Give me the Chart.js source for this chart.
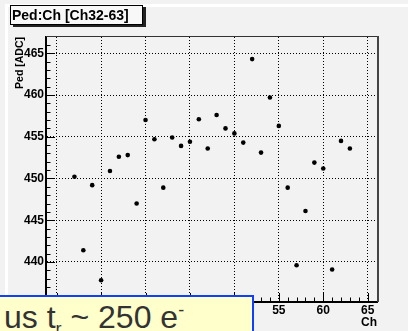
<!DOCTYPE html>
<html>
<head>
<meta charset="utf-8">
<script src="https://cdn.jsdelivr.net/npm/chart.js@4.4.1/dist/chart.umd.min.js"></script>
<style>
  html, body { margin: 0; padding: 0; background: #f2f2f2; overflow: hidden; }
  #wrap { position: relative; width: 408px; height: 331px; }
  #ped-chart { position: absolute; left: 0; top: 0; }
  #title-box {
    position: absolute; left: 10px; top: 5px; width: 130px; height: 18px;
    padding-left: 1px; border: 1px solid #000; background: #f8f8f8;
    box-shadow: 3px 2px 0 #222;
    font: bold 14px "Liberation Sans", Arial, sans-serif; line-height: 18px; color: #000;
    white-space: nowrap;
  }
  #slide-box {
    position: absolute; left: -10px; top: 295px; width: 248px; height: 60px;
    padding-left: 12px; border: 2px solid #1040ff; background: #ffffcc;
    font: 32px "Liberation Sans", Arial, sans-serif; line-height: 40px; color: #333;
    white-space: nowrap;
  }
  #slide-box sub, #slide-box sup { font-size: 18px; line-height: 0; }
</style>
</head>
<body>
<div id="wrap">
  <canvas id="ped-chart" width="408" height="331"></canvas>
  <div id="title-box">Ped:Ch [Ch32-63]</div>
  <div id="slide-box">us t<sub>r</sub> ~ 250 e<sup>-</sup></div>
</div>
<script>
// pedestal per channel
const channels = [32, 33, 34, 35, 36, 37, 38, 39, 40, 41, 42, 43, 44, 45, 46, 47,
  48, 49, 50, 51, 52, 53, 54, 55, 56, 57, 58, 59, 60, 61, 62, 63];
const pedValues = [450.2, 441.4, 449.2, 437.8, 450.9, 452.6, 452.8, 447.0,
  457.0, 454.7, 448.9, 454.9, 453.9, 454.4, 457.1, 453.6,
  457.6, 456.0, 455.4, 454.3, 464.3, 453.1, 459.7, 456.3,
  448.9, 439.6, 446.1, 451.9, 451.2, 439.1, 454.5, 453.6];
const xTickLabels = [30, 35, 40, 45, 50, 55, 60, 65];
const yTickLabels = [440, 445, 450, 455, 460, 465];

const xRange = [28.8, 66.05];
const yRange = [435.2, 466.95];

const font = "Liberation Sans";

function intTicks(scale) {
  const ticks = [];
  for (let v = Math.ceil(scale.min); v <= Math.floor(scale.max); v++) {
    ticks.push({ value: v });
  }
  scale.ticks = ticks;
}

function isMajor(scale, v) {
  const labels = scale.axis === "x" ? xTickLabels : yTickLabels;
  return labels.includes(v);
}

// ROOT style: pad background, frame, inward ticks
const rootStyle = {
  id: "rootStyle",
  beforeDraw(chart) {
    const ctx = chart.ctx;
    ctx.save();
    ctx.fillStyle = "#f2f2f2";
    ctx.fillRect(0, 0, chart.width, chart.height);
    ctx.fillStyle = "#ffffff";
    ctx.fillRect(5, 4, chart.width - 5, 3);
    ctx.fillRect(5, 4, 3, chart.height - 4);
    ctx.restore();
  },
  afterDraw(chart) {
    const ctx = chart.ctx;
    const area = chart.chartArea;
    const xs = chart.scales.x;
    const ys = chart.scales.y;
    ctx.save();
    ctx.strokeStyle = "#000";
    ctx.lineWidth = 1;
    ctx.beginPath();
    xs.ticks.forEach((t) => {
      const px = Math.round(xs.getPixelForValue(t.value)) + 0.5;
      const len = isMajor(xs, t.value) ? 9 : 4.5;
      ctx.moveTo(px, area.bottom);
      ctx.lineTo(px, area.bottom - len);
    });
    ys.ticks.forEach((t) => {
      const py = Math.round(ys.getPixelForValue(t.value)) + 0.5;
      const len = isMajor(ys, t.value) ? 9 : 4.5;
      ctx.moveTo(area.left, py);
      ctx.lineTo(area.left + len, py);
    });
    ctx.stroke();
    // top and right side of the frame
    ctx.fillStyle = "#333";
    ctx.fillRect(area.left, area.top - 1, area.right - area.left + 2, 1);
    ctx.fillStyle = "#444";
    ctx.fillRect(area.right, area.top - 1, 2, area.bottom - area.top + 1);
    ctx.restore();
  },
};

const canvas = document.querySelector("#ped-chart");

new Chart(canvas.getContext("2d"), {
  type: "scatter",
  data: {
    datasets: [
      {
        label: "Ped",
        data: channels.map((ch, i) => ({ x: ch, y: pedValues[i] })),
        backgroundColor: "#000",
        borderWidth: 0,
        pointRadius: 2.3,
      },
    ],
  },
  options: {
    responsive: false,
    animation: false,
    devicePixelRatio: 1,
    layout: { padding: { left: 0, top: 37, right: 31, bottom: 0 } },
    plugins: {
      legend: { display: false },
      tooltip: { enabled: false },
    },
    scales: {
      x: {
        type: "linear",
        min: xRange[0],
        max: xRange[1],
        afterBuildTicks: intTicks,
        afterFit: (scale) => { scale.height = 29; },
        grid: {
          color: (c) => (c.tick && isMajor(c.scale, c.tick.value) ? "#000" : "transparent"),
          lineWidth: 1,
          drawTicks: false,
        },
        border: { display: true, color: "#000", width: 2, dash: [1, 2] },
        ticks: {
          padding: 1,
          color: "#000",
          font: { family: font, size: 12, weight: "bold" },
          maxRotation: 0,
          autoSkip: false,
          callback: (v) => (xTickLabels.includes(v) ? String(v) : ""),
        },
        title: {
          display: true,
          text: "Ch",
          align: "end",
          color: "#000",
          font: { family: font, size: 12, weight: "bold" },
          padding: { top: 0, bottom: 1 },
        },
      },
      y: {
        type: "linear",
        min: yRange[0],
        max: yRange[1],
        afterBuildTicks: intTicks,
        afterFit: (scale) => { scale.width = 46; },
        grid: {
          color: (c) => (c.tick && isMajor(c.scale, c.tick.value) ? "#000" : "transparent"),
          lineWidth: 1,
          drawTicks: false,
        },
        border: { display: true, color: "#000", width: 2, dash: [1, 2] },
        ticks: {
          padding: 2,
          color: "#000",
          font: { family: font, size: 12, weight: "bold" },
          autoSkip: false,
          callback: (v) => (yTickLabels.includes(v) ? String(v) : ""),
        },
        title: {
          display: true,
          text: "Ped [ADC]",
          align: "end",
          color: "#000",
          font: { family: font, size: 10.5, weight: "bold" },
          padding: { top: 14, bottom: 0 },
        },
      },
    },
  },
  plugins: [rootStyle],
});
</script>
</body>
</html>
